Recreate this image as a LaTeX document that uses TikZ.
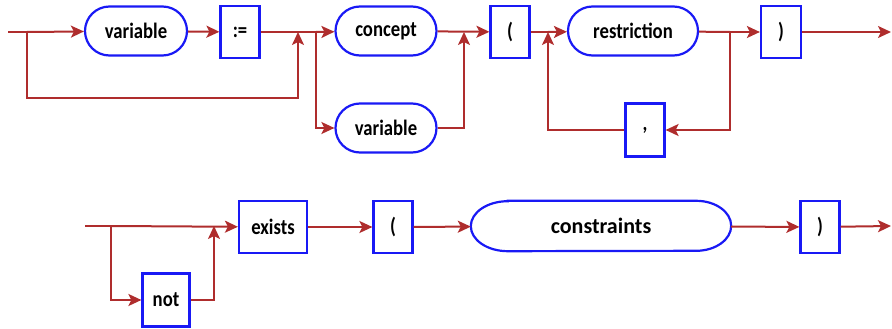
\documentclass[tikz,border=0pt]{standalone}
\usepackage{fontspec}
\setmainfont{Carlito}
\newfontfamily\condfont[FakeStretch=0.85]{Carlito}
\usetikzlibrary{arrows.meta,shapes.misc}
\definecolor{arrred}{RGB}{175,45,45}
\definecolor{boxblue}{RGB}{25,25,245}
\tikzset{
  outline/.style={draw=boxblue,line width=2.2pt},
  term/.style={outline,fill=white,rectangle,inner sep=0pt,minimum width=39pt,minimum height=52pt,font=\condfont\bfseries\fontsize{22}{24}\selectfont},
  nterm/.style={outline,fill=white,rounded rectangle,inner sep=0pt,minimum width=102pt,minimum height=49pt,font=\condfont\bfseries\fontsize{22}{24}\selectfont},
  wire/.style={draw=arrred,line width=2pt},
  arr/.style={wire,-{Stealth[length=13pt,width=12pt,inset=3pt]}},
}
\begin{document}
\begin{tikzpicture}[x=1pt,y=-1pt]
\useasboundingbox (0,0) rectangle (892,329);
% top row
\node[nterm] (var1) at (136,31) {variable};
\node[term] (assign) at (240,32) {:=};
\node[nterm,minimum width=101pt] (concept) at (386,31) {concept};
\node[nterm,minimum width=101pt] (var2) at (386,128) {variable};
\node[term] (lp1) at (510,32) {(};
\node[nterm,minimum width=130pt] (restr) at (633,31) {restriction};
\node[term,minimum height=53pt] (comma) at (645,130) {,};
\node[term,minimum width=40pt] (rp1) at (781,32) {)};
\coordinate (s1) at (8,32);
\coordinate (j1) at (27,32);
\coordinate (j1b) at (298,98);
\coordinate (j2) at (298,32);
\coordinate (j3) at (316,32);
\coordinate (j4) at (464,32);
\coordinate (j5) at (548,32);
\coordinate (j6) at (730,32);
\coordinate (e1) at (891,32);
\draw[wire] (s1) -- (j1);
\draw[arr] (j1) -- (var1);
\draw[arr] (j1) |- (j1b) -- (j2);
\draw[arr] (var1) -- (assign);
\draw[wire] (assign) -- (j3);
\draw[arr] (j3) -- (concept);
\draw[arr] (j3) |- (var2);
\draw[arr] (var2) -| (j4);
\draw[arr] (concept) -- (lp1);
\draw[wire] (lp1) -- (j5);
\draw[arr] (j5) -- (restr);
\draw[wire] (restr) -- (j6);
\draw[arr] (j6) -- (rp1);
\draw[arr] (j6) |- (comma);
\draw[arr] (comma) -| (j5);
\draw[arr] (rp1) -- (e1);
% bottom row
\node[term,minimum width=47pt,minimum height=53pt] (not) at (166,300) {not};
\node[term,minimum width=68pt] (exists) at (273,227) {exists};
\node[term] (lp2) at (393,227) {(};
\node[rectangle,inner sep=0pt,minimum width=260pt,minimum height=50pt,font=\bfseries\fontsize{22}{24}\selectfont] (constr) at (601,226) {constraints};
\draw[outline] ([xshift=37pt]constr.north west) -- ([xshift=-35pt]constr.north east)
  arc[start angle=90,end angle=-90,x radius=35pt,y radius=25pt]
  -- ([xshift=37pt]constr.south west)
  arc[start angle=270,end angle=90,x radius=37pt,y radius=25pt] -- cycle;
\node[term] (rp2) at (820,227) {)};
\coordinate (s2) at (85,226);
\coordinate (j7) at (111,226);
\coordinate (j8) at (214,226);
\coordinate (e2) at (891,226);
\draw[wire] (s2) -- (j7);
\draw[arr] (j7) -- (exists);
\draw[arr] (j7) |- (not);
\draw[arr] (not) -| (j8);
\draw[arr] (exists) -- (lp2);
\draw[arr] (lp2) -- (constr);
\draw[arr] (constr) -- (rp2);
\draw[arr] (rp2) -- (e2);
\end{tikzpicture}
\end{document}
